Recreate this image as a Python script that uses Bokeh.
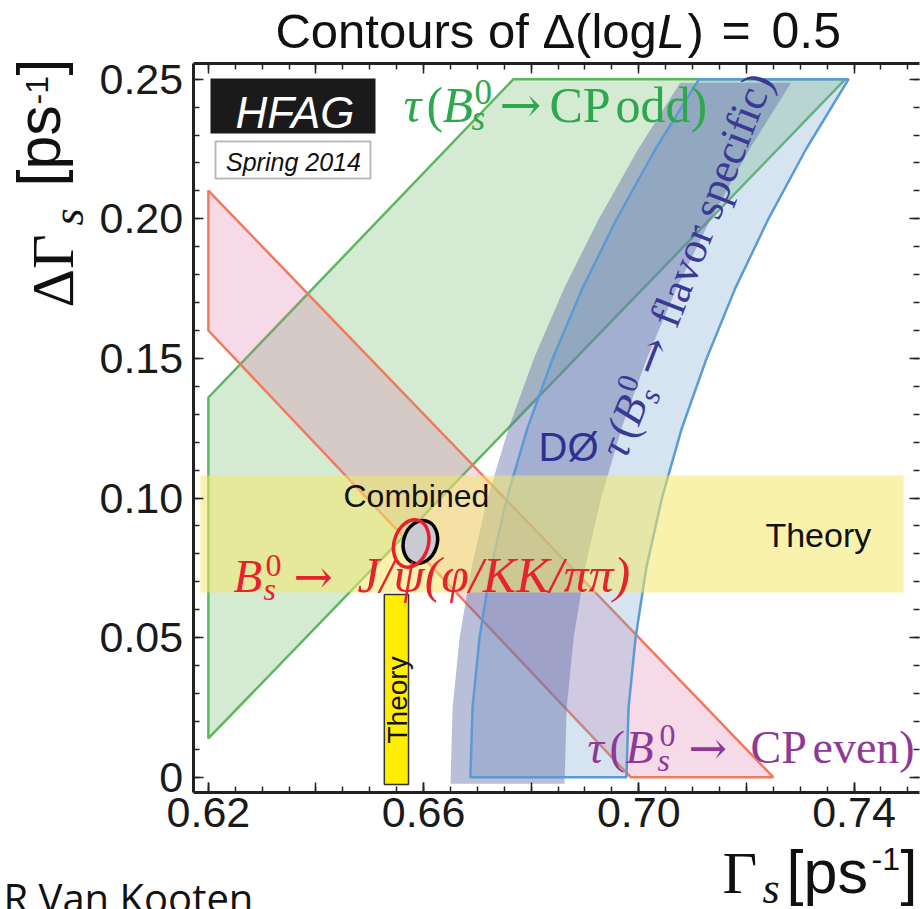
import math

from bokeh.plotting import figure
from bokeh.models import (BoxAnnotation, FixedTicker, Label, LinearAxis,
                          PrintfTickFormatter)
from bokeh.embed import file_html
from bokeh.resources import INLINE

# ---------------------------------------------------------------------------
# Contours of Delta(logL) = 0.5 in the (Gamma_s, DeltaGamma_s) plane [ps^-1]
# ---------------------------------------------------------------------------

# tau(Bs -> CP odd) constraint
cp_odd_gamma = [0.6200, 0.6200, 0.6767, 0.7384]
cp_odd_dgamma = [0.0139, 0.1360, 0.2500, 0.2500]

# tau(Bs -> CP even) constraint
cp_even_gamma = [0.6200, 0.6200, 0.6985, 0.7250]
cp_even_dgamma = [0.2101, 0.1600, 0.0000, 0.0000]

# tau(Bs -> flavour specific) band: edges sampled along DeltaGamma_s
fs_dgamma = [0.000, 0.025, 0.050, 0.075, 0.100, 0.125, 0.150, 0.175, 0.200, 0.225, 0.250]
fs_gamma_low = [0.6687, 0.6691, 0.6704, 0.6725, 0.6755, 0.6793, 0.6840, 0.6895, 0.6959, 0.7031, 0.7112]
fs_gamma_high = [0.6977, 0.6981, 0.6994, 0.7014, 0.7043, 0.7080, 0.7126, 0.7179, 0.7241, 0.7311, 0.7390]

# D0 flavour-specific band
d0_dgamma = [-0.0023, 0.025, 0.050, 0.075, 0.100, 0.125, 0.150, 0.175, 0.200, 0.225, 0.2487]
d0_gamma_low = [0.6650, 0.6654, 0.6667, 0.6689, 0.6719, 0.6758, 0.6805, 0.6861, 0.6926, 0.6999, 0.7077]
d0_gamma_high = [0.6862, 0.6866, 0.6879, 0.6900, 0.6930, 0.6968, 0.7015, 0.7070, 0.7134, 0.7206, 0.7283]

# theory predictions
theory_dgamma = [0.0662, 0.1081]
theory_dgamma_gamma_span = [0.6185, 0.7492]
theory_gamma = [0.6527, 0.6572]
theory_gamma_dgamma_span = [-0.0026, 0.0654]

# Bs -> J/psi (phi / KK / pipi) and combined contours (centre, full axes, tilt)
jpsi_center = [0.6577, 0.0837]
jpsi_axes = [0.00634, 0.01736]
combined_center = [0.6594, 0.0842]
combined_axes = [0.00624, 0.01569]
contour_tilt = -0.3

# axis ticks
x_labelled = [0.62, 0.66, 0.70, 0.74]
x_long = [0.62, 0.64, 0.66, 0.68, 0.70, 0.72, 0.74]
x_short = [round(0.620 + 0.005 * i, 3) for i in range(27)]
y_labelled = [0.0, 0.05, 0.10, 0.15, 0.20, 0.25]
y_tick_labels = {0: "0"}
y_short = [round(0.01 * i, 2) for i in range(26)]

# visible plotting box (the canvas around it holds titles and tick labels)
GAMMA_LO, GAMMA_HI = 0.61717, 0.75220
DGAMMA_LO, DGAMMA_HI = -0.0055, 0.2556

SANS = "Liberation Sans"
SERIF = "Liberation Serif"
ARROW_FONT = "DejaVu Serif"
AXIS_COLOR = "#222222"
LONG_TICK, SHORT_TICK = 10, 6
# Label boxes are anchored on their vertical centre; this (in em) moves the
# anchor onto the alphabetic baseline.
BASELINE_SHIFT = 0.345

p = figure(width=920, height=909,
           x_range=(0.58136, 0.75236), y_range=(-0.04738, 0.27819),
           output_backend="svg", toolbar_location=None,
           min_border_left=0, min_border_right=0,
           min_border_top=0, min_border_bottom=0,
           background_fill_color="white", border_fill_color="white")
p.title.visible = False
p.grid.visible = False
p.outline_line_color = None

# constraint regions ---------------------------------------------------------
p.patch(cp_odd_gamma, cp_odd_dgamma, fill_color=(87, 171, 79), fill_alpha=0.25,
        line_color="#5cb860", line_width=2.5)
p.patch(cp_even_gamma, cp_even_dgamma, fill_color=(219, 107, 163), fill_alpha=0.25,
        line_color="#f07a5c", line_width=2.5)

fs_x = fs_gamma_low + fs_gamma_high[::-1]
fs_y = fs_dgamma + fs_dgamma[::-1]
d0_x = d0_gamma_low + d0_gamma_high[::-1]
d0_y = d0_dgamma + d0_dgamma[::-1]

p.patch(fs_x, fs_y, fill_color=(118, 165, 210), fill_alpha=0.30, line_color=None)
p.patch(d0_x, d0_y, fill_color=(100, 110, 170), fill_alpha=0.45, line_color=None)
p.patch(fs_x, fs_y, fill_alpha=0, line_color="#5b9bd5", line_width=2.5)

p.quad(left=theory_dgamma_gamma_span[0], right=theory_dgamma_gamma_span[1],
       bottom=theory_dgamma[0], top=theory_dgamma[1],
       fill_color=(242, 232, 105), fill_alpha=0.55, line_color=None)
p.quad(left=theory_gamma[0], right=theory_gamma[1],
       bottom=theory_gamma_dgamma_span[0], top=theory_gamma_dgamma_span[1],
       fill_color="#ffee00", line_color="#333333", line_width=1.5)

p.ellipse(x=[combined_center[0]], y=[combined_center[1]],
          width=[combined_axes[0]], height=[combined_axes[1]], angle=contour_tilt,
          fill_color="#c9cad2", line_color="black", line_width=3.5)
p.ellipse(x=[jpsi_center[0]], y=[jpsi_center[1]],
          width=[jpsi_axes[0]], height=[jpsi_axes[1]], angle=contour_tilt,
          fill_alpha=0, line_color="#e8202a", line_width=3.5)


# axes: pinned around the plotting box -------------------------------------------
def style_ticks(ax, major_len, minor_len, line=True):
    ax.axis_line_color = AXIS_COLOR if line else None
    ax.axis_line_width = 3
    ax.major_tick_line_color = AXIS_COLOR
    ax.minor_tick_line_color = AXIS_COLOR
    ax.major_tick_line_width = 1.5
    ax.minor_tick_line_width = 1.5
    ax.major_tick_in = major_len
    ax.major_tick_out = 0
    ax.minor_tick_in = minor_len
    ax.minor_tick_out = 0


def tick_row(place, location, bounds, ticks, length, line=False):
    """An unlabelled row of inward ticks (drawn as minor ticks)."""
    ax = LinearAxis(ticker=FixedTicker(ticks=[], minor_ticks=ticks),
                    fixed_location=location, bounds=bounds)
    style_ticks(ax, 0, length, line=line)
    p.add_layout(ax, place)


xa = p.xaxis[0]
xa.ticker = FixedTicker(ticks=x_labelled, minor_ticks=x_short)
xa.formatter = PrintfTickFormatter(format="%.2f")
xa.major_label_standoff = 5
xa.fixed_location = DGAMMA_LO
xa.bounds = (GAMMA_LO, GAMMA_HI)
style_ticks(xa, LONG_TICK, SHORT_TICK)
xa.major_label_text_font = SANS
xa.major_label_text_font_size = "43px"
xa.major_label_text_color = "#1a1a1a"
tick_row("below", DGAMMA_LO, (GAMMA_LO, GAMMA_HI), x_long, LONG_TICK)

ya = p.yaxis[0]
ya.ticker = FixedTicker(ticks=y_labelled, minor_ticks=y_short)
ya.formatter = PrintfTickFormatter(format="%.2f")
ya.major_label_overrides = y_tick_labels
ya.major_label_standoff = 10
ya.fixed_location = GAMMA_LO
ya.bounds = (DGAMMA_LO, DGAMMA_HI)
style_ticks(ya, LONG_TICK, SHORT_TICK)
ya.major_label_text_font = SANS
ya.major_label_text_font_size = "43px"
ya.major_label_text_color = "#1a1a1a"

tick_row("above", DGAMMA_HI, (GAMMA_LO, GAMMA_HI), x_short, SHORT_TICK, line=True)
tick_row("above", DGAMMA_HI, (GAMMA_LO, GAMMA_HI), x_long, LONG_TICK)
tick_row("right", GAMMA_HI, (DGAMMA_LO, DGAMMA_HI), y_short, SHORT_TICK)
tick_row("right", GAMMA_HI, (DGAMMA_LO, DGAMMA_HI), y_labelled, LONG_TICK)


# text ---------------------------------------------------------------------------
def rich_text(x, y, pieces, color, angle=0.0, align="left"):
    """Lay out a run of text pieces from a data-space baseline anchor.

    Each piece is (text, along, across, size_px, style, font); along/across are
    pixel offsets along the (rotated) baseline and perpendicular to it."""
    ca, sa = math.cos(angle), math.sin(angle)
    for text, a, b, size, style, font in pieces:
        b = b + BASELINE_SHIFT * size
        p.add_layout(Label(x=x, y=y, x_offset=a * ca - b * sa, y_offset=a * sa + b * ca,
                           text=text, angle=angle, text_font=font,
                           text_font_size=f"{size}px", text_font_style=style,
                           text_color=color, text_align=align,
                           text_baseline="middle"))


def plain_text(x, y, text, size, color, font=SANS, style="normal", angle=0.0,
               align="left"):
    rich_text(x, y, [(text, 0, 0, size, style, font)], color, angle=angle, align=align)


# title
rich_text(0.63247, 0.26138, [
    ("Contours of \u0394(log", 0, 0, 49, "normal", SANS),
    ("L", 382, 0, 49, "italic", SANS),
    (")", 412, 0, 49, "normal", SANS),
    ("=", 446, 0, 50, "normal", SANS),
    ("0.5", 496, 0, 50, "normal", SANS),
], "#111111")

# axis titles
rich_text(0.59493, 0.16823, [
    ("\u0394\u0393", 0, 0, 60, "normal", SERIF),
    ("s", 82, -10, 44, "italic", SERIF),
    ("[ps", 121, 13, 61, "normal", SANS),
    ("-1", 203, 25, 32, "normal", SANS),
    ("]", 232, 13, 61, "normal", SANS),
], "#111111", angle=math.pi / 2)

rich_text(0.71556, -0.04165, [
    ("\u0393", 0, 0, 60, "normal", SERIF),
    ("s", 40, -10, 44, "italic", SERIF),
    ("[ps", 64, 0, 61, "normal", SANS),
    ("-1", 149, 23, 32, "normal", SANS),
    ("]", 178, 0, 61, "normal", SANS),
], "#111111")

plain_text(0.58191, -0.0481, "R Van Kooten", 40, "#111111", font="Open Sans")

# HFAG badge
p.add_layout(BoxAnnotation(left=0.62039, right=0.65106, bottom=0.23055, top=0.25025,
                           fill_color="#1a1a1a", fill_alpha=1.0, line_color=None))
plain_text(0.63610, 0.23270, "HFAG", 44, "white", style="italic", align="center")
p.add_layout(BoxAnnotation(left=0.62132, right=0.65013, bottom=0.21440, top=0.22765,
                           fill_color="white", fill_alpha=1.0,
                           line_color="#1a1a1a", line_width=2))
plain_text(0.63581, 0.21730, "Spring 2014", 25, "#111111", style="italic",
           align="center")

# region labels
rich_text(0.65626, 0.23449, [
    ("\u03c4", 0, 0, 50, "italic", SERIF),
    ("(", 23, 0, 50, "normal", SERIF),
    ("B", 39, 0, 50, "italic", SERIF),
    ("0", 71, 18, 35, "normal", SERIF),
    ("s", 68, -8, 35, "italic", SERIF),
    ("\u2192", 96, 0, 50, "normal", ARROW_FONT),
    ("CP", 146, 0, 50, "normal", SERIF),
    ("odd)", 212, 0, 50, "normal", SERIF),
], "#2ea84c")

rich_text(0.69046, 0.00491, [
    ("\u03c4", 0, 0, 46, "italic", SERIF),
    ("(", 22, 0, 46, "normal", SERIF),
    ("B", 38, 0, 46, "italic", SERIF),
    ("0", 72, 17, 32, "normal", SERIF),
    ("s", 70, -8, 32, "italic", SERIF),
    ("\u2192", 101, 0, 46, "normal", ARROW_FONT),
    ("CP", 163, 0, 46, "normal", SERIF),
    ("even)", 225, 0, 46, "normal", SERIF),
], "#8e3996")

rich_text(0.62467, 0.06615, [
    ("B", 0, 0, 47, "italic", SERIF),
    ("0", 32, 16, 32, "normal", SERIF),
    ("s", 30, -8, 32, "italic", SERIF),
    ("\u2192", 60, 0, 47, "normal", ARROW_FONT),
    ("J/\u03c8(\u03c6/KK/\u03c0\u03c0)", 124, 0, 50, "italic", SERIF),
], "#e6222c")

rich_text(0.69771, 0.11343, [
    ("\u03c4", 0, 0, 44, "italic", SERIF),
    ("(", 21, 0, 44, "normal", SERIF),
    ("B", 35, 0, 44, "italic", SERIF),
    ("0", 65, 16, 30, "normal", SERIF),
    ("s", 63, -8, 30, "italic", SERIF),
    ("\u2192", 88, 0, 44, "normal", ARROW_FONT),
    ("flavor specific)", 140, 0, 44, "normal", SERIF),
], "#3a3996", angle=1.20)

plain_text(0.68136, 0.11343, "D\u00d8", 40, "#2e3190")
plain_text(0.64511, 0.09660, "Combined", 32, "#111111")
plain_text(0.72354, 0.08263, "Theory", 34, "#111111")
plain_text(0.65701, 0.01207, "Theory", 28, "#111111", angle=math.pi / 2)

open("out.html", "w").write(file_html(p, INLINE))
